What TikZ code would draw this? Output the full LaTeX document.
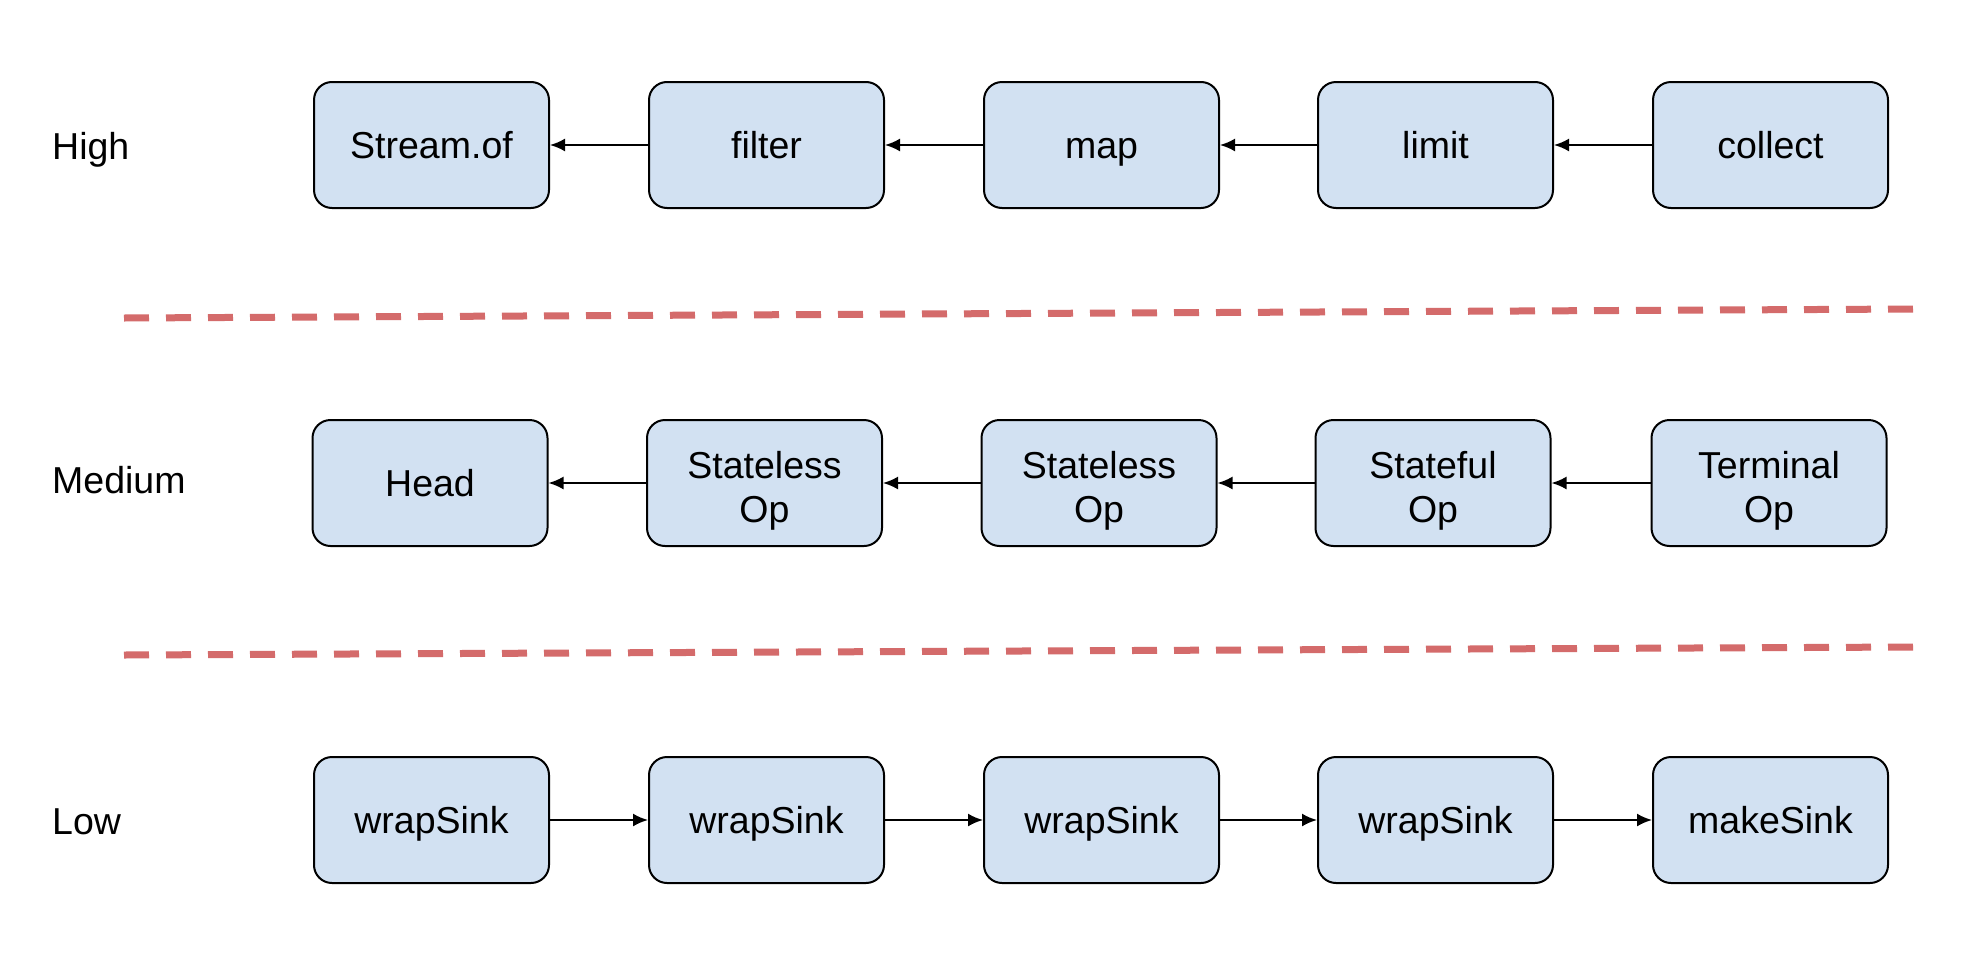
\documentclass[tikz,border=0pt]{standalone}
\usepackage{fontspec}
\setmainfont{Liberation Sans}
\usetikzlibrary{arrows.meta}
\definecolor{boxfill}{HTML}{D2E1F2}
\definecolor{dashred}{HTML}{D46B6B}
\tikzset{
  opbox/.style={draw=black, line width=2pt, fill=boxfill, rounded corners=18pt,
    minimum width=235pt, minimum height=126pt, align=center, inner sep=0pt,
    text height=27pt, text depth=1pt,
    font=\fontsize{37.5}{44}\selectfont},
  opboxtwo/.style={opbox, text height=79pt},
  lvl/.style={anchor=base west, inner sep=0pt, font=\fontsize{37.5}{44}\selectfont},
  arr/.style={line width=2pt, -{Latex[length=15pt,width=13pt]}},
  sep/.style={draw=dashred, line width=7pt, dash pattern=on 25pt off 17pt}
}
\begin{document}
\begin{tikzpicture}[x=1pt,y=-1pt]
\useasboundingbox (0,0) rectangle (1986,964);
\fill[white] (0,0) rectangle (1986,964);
% level labels
\node[lvl] (lh) at (52,159) {High};
\node[lvl] (lm) at (52,493) {Medium};
\node[lvl] (ll) at (52,834) {Low};
% high row
\node[opbox] (h1) at (431.5,145) {Stream.of};
\node[opbox] (h2) at (766.5,145) {filter};
\node[opbox] (h3) at (1101.5,145) {map};
\node[opbox] (h4) at (1435.5,145) {limit};
\node[opbox] (h5) at (1770.5,145) {collect};
\draw[arr] (h2.west) -- (h1.east);
\draw[arr] (h3.west) -- (h2.east);
\draw[arr] (h4.west) -- (h3.east);
\draw[arr] (h5.west) -- (h4.east);
% medium row
\node[opbox] (m1) at (430,483) {Head};
\node[opboxtwo] (m2) at (764.5,483) {Stateless\\Op};
\node[opboxtwo] (m3) at (1099,483) {Stateless\\Op};
\node[opboxtwo] (m4) at (1433,483) {Stateful\\Op};
\node[opboxtwo] (m5) at (1769,483) {Terminal\\Op};
\draw[arr] (m2.west) -- (m1.east);
\draw[arr] (m3.west) -- (m2.east);
\draw[arr] (m4.west) -- (m3.east);
\draw[arr] (m5.west) -- (m4.east);
% low row
\node[opbox] (l1) at (431.5,820) {wrapSink};
\node[opbox] (l2) at (766.5,820) {wrapSink};
\node[opbox] (l3) at (1101.5,820) {wrapSink};
\node[opbox] (l4) at (1435.5,820) {wrapSink};
\node[opbox] (l5) at (1770.5,820) {makeSink};
\draw[arr] (l1.east) -- (l2.west);
\draw[arr] (l2.east) -- (l3.west);
\draw[arr] (l3.east) -- (l4.west);
\draw[arr] (l4.east) -- (l5.west);
% separators
\coordinate (s1a) at (124,318);
\coordinate (s1b) at (1916,309);
\coordinate (s2a) at (124,655);
\coordinate (s2b) at (1916,647);
\draw[sep] (s1a) -- (s1b);
\draw[sep] (s2a) -- (s2b);
\end{tikzpicture}
\end{document}
